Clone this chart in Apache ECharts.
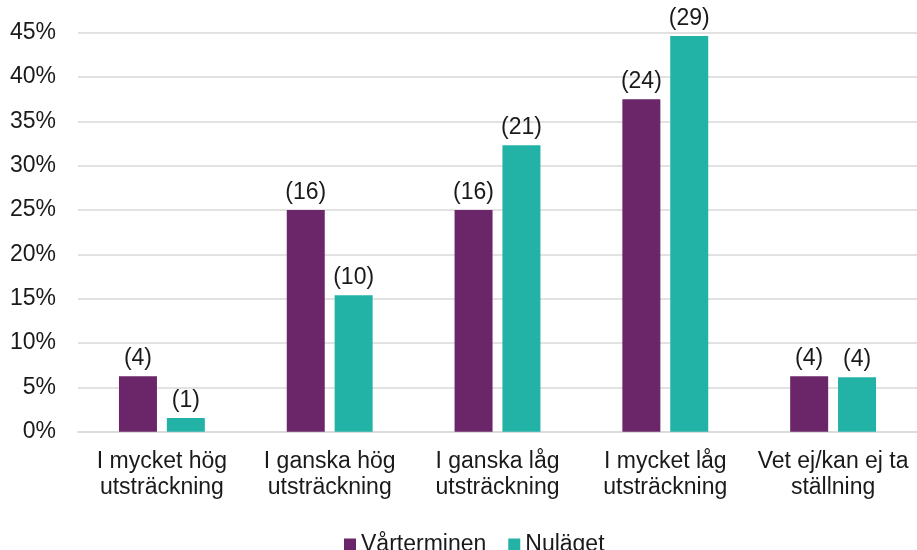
<!DOCTYPE html>
<html>
<head>
<meta charset="utf-8">
<script src="https://cdn.jsdelivr.net/npm/echarts@6/dist/echarts.min.js"></script>
<style>html,body{margin:0;padding:0;background:#fff}#c{width:917px;height:550px}</style>
</head>
<body>
<div id="c"></div>
<script>
const categories = ['I mycket hög\nutsträckning', 'I ganska hög\nutsträckning', 'I ganska låg\nutsträckning', 'I mycket låg\nutsträckning', 'Vet ej/kan ej ta\nställning'];
const seriesNames = ['Vårterminen', 'Nuläget'];
const varterminenPct = [6.25, 25, 25, 37.5, 6.25];
const nulagetPct = [1.54, 15.38, 32.31, 44.62, 6.15];
const varterminenN = [4, 16, 16, 24, 4];
const nulagetN = [1, 10, 21, 29, 4];
const colors = ['#6b2669', '#22b2a6'];
const FONT = 'Liberation Sans, Arial, sans-serif';

function mkSeries(name, vals, counts, color) {
  return {
    name: name, type: 'bar', data: vals,
    barWidth: 38, barGap: '26%',
    itemStyle: { color: color },
    label: {
      show: true, position: 'top', distance: 6,
      formatter: p => '(' + counts[p.dataIndex] + ')',
      fontFamily: FONT, fontSize: 23, color: '#1a1a1a'
    }
  };
}

const chart = echarts.init(document.getElementById('c'), null, { renderer: 'canvas' });
chart.setOption({
  animation: false,
  color: colors,
  grid: { left: 78, right: 0, top: 32.7, bottom: 118.3, containLabel: false },
  legend: {
    data: seriesNames, left: 339, top: 528, itemWidth: 12, itemHeight: 12, itemGap: 22,
    icon: 'rect',
    textStyle: { fontFamily: FONT, fontSize: 23, color: '#1a1a1a', padding: [0, 0, 0, 0] }
  },
  xAxis: {
    type: 'category', data: categories,
    axisLine: { show: true, lineStyle: { color: '#d9d9d9', width: 1.5 } },
    axisTick: { show: false },
    axisLabel: { fontFamily: FONT, fontSize: 23, color: '#1a1a1a', lineHeight: 26, margin: 17, interval: 0 }
  },
  yAxis: {
    type: 'value', min: 0, max: 45, interval: 5,
    axisLine: { show: false }, axisTick: { show: false },
    splitLine: { lineStyle: { color: '#d9d9d9', width: 1.5 } },
    axisLabel: { fontFamily: FONT, fontSize: 23, color: '#1a1a1a', margin: 22, formatter: v => v + '%' }
  },
  series: [
    mkSeries(seriesNames[0], varterminenPct, varterminenN, colors[0]),
    mkSeries(seriesNames[1], nulagetPct, nulagetN, colors[1])
  ]
});
</script>
</body>
</html>
